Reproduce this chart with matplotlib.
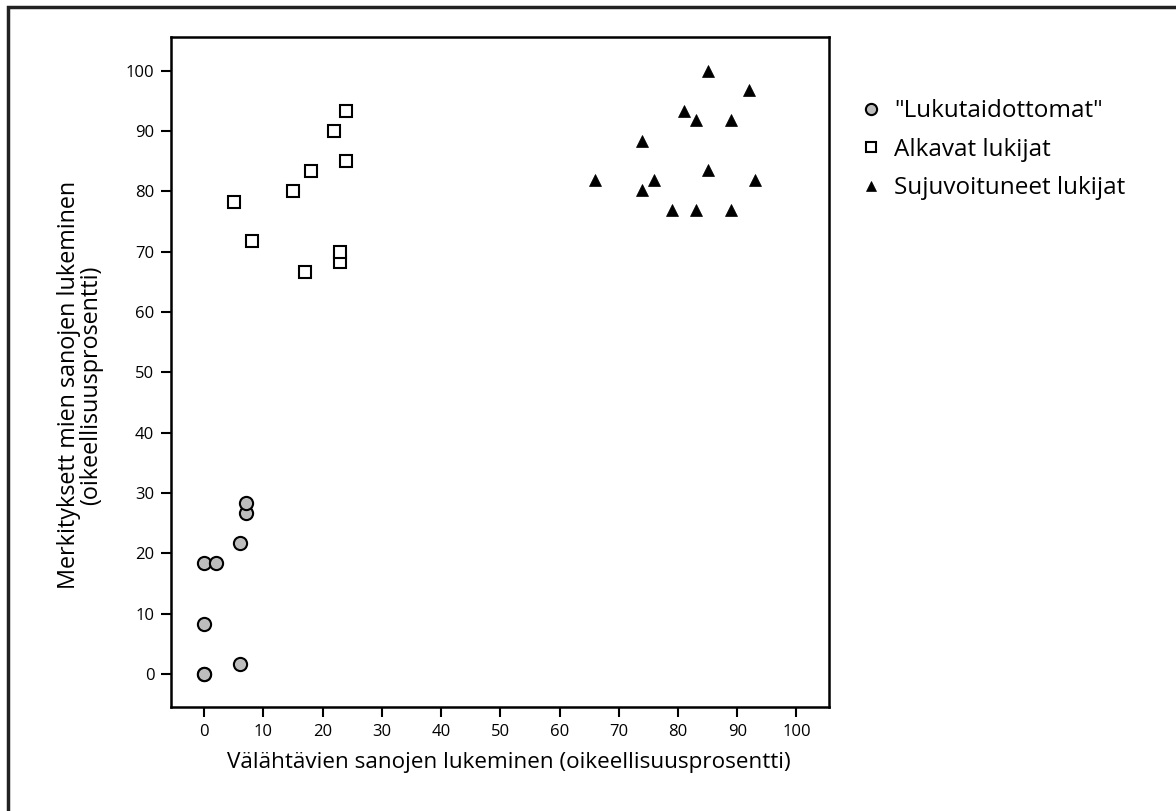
import matplotlib.pyplot as plt
from matplotlib.patches import Rectangle

# "Lukutaidottomat"
illit_x = [0, 0, 0, 0, 2, 6, 6, 7, 7]
illit_y = [0, 0, 8.3, 18.3, 18.3, 1.7, 21.7, 26.7, 28.3]

# Alkavat lukijat
begin_x = [5, 8, 15, 17, 18, 22, 23, 23, 24, 24]
begin_y = [78.3, 71.7, 80, 66.7, 83.3, 90, 68.3, 70, 85, 93.3]

# Sujuvoituneet lukijat
fluent_x = [66, 74, 74, 76, 79, 81, 83, 83, 85, 85, 89, 89, 92, 93]
fluent_y = [81.9, 88.4, 80.2, 81.9, 76.9, 93.4, 91.8, 76.9, 100, 83.5, 91.8, 76.9, 96.8, 81.9]

ticks = list(range(0, 101, 10))

plt.rcParams["font.family"] = ["Open Sans", "DejaVu Sans"]

fig = plt.figure(figsize=(11.76, 8.11), dpi=100)
ax = fig.add_axes([171 / 1176, 1 - 707 / 811, (829 - 171) / 1176, (707 - 37) / 811])

ax.plot(illit_x, illit_y, "o", ms=9.5, mfc="#bdbdbd", mec="black", mew=1.5,
        ls="none", label='"Lukutaidottomat"')
ax.plot(begin_x, begin_y, "s", ms=9, mfc="white", mec="black", mew=1.5,
        ls="none", label="Alkavat lukijat")
ax.plot(fluent_x, fluent_y, "^", ms=8, mfc="black", mec="black", mew=0.5,
        ls="none", label="Sujuvoituneet lukijat")

ax.set_xlim(-5.6, 105.5)
ax.set_ylim(-5.5, 105.6)
ax.set_xticks(ticks)
ax.set_yticks(ticks)
ax.tick_params(direction="out", length=7, width=1.5, labelsize=12, pad=5)
for s in ax.spines.values():
    s.set_linewidth(1.8)

ax.set_xlabel("Välähtävien sanojen lukeminen (oikeellisuusprosentti)", fontsize=16.2, labelpad=9)
ax.set_ylabel("Merkityksett mien sanojen lukeminen\n(oikeellisuusprosentti)", fontsize=16.8,
              labelpad=16, linespacing=0.92)
ax.xaxis.label.set_x(0.514)
ax.yaxis.label.set_y(0.48)

ax.legend(loc="upper left", bbox_to_anchor=(1.012, 0.94), frameon=False, fontsize=17.5,
          handletextpad=0.45, labelspacing=0.6, markerscale=0.85, handlelength=1.0)

fig.patches.append(Rectangle((8 / 1176, -0.1), 1.2, 1 - 7 / 811 + 0.1, transform=fig.transFigure,
                             fill=False, ec="#222222", lw=2.5))

fig.savefig("out.png", dpi=100)
